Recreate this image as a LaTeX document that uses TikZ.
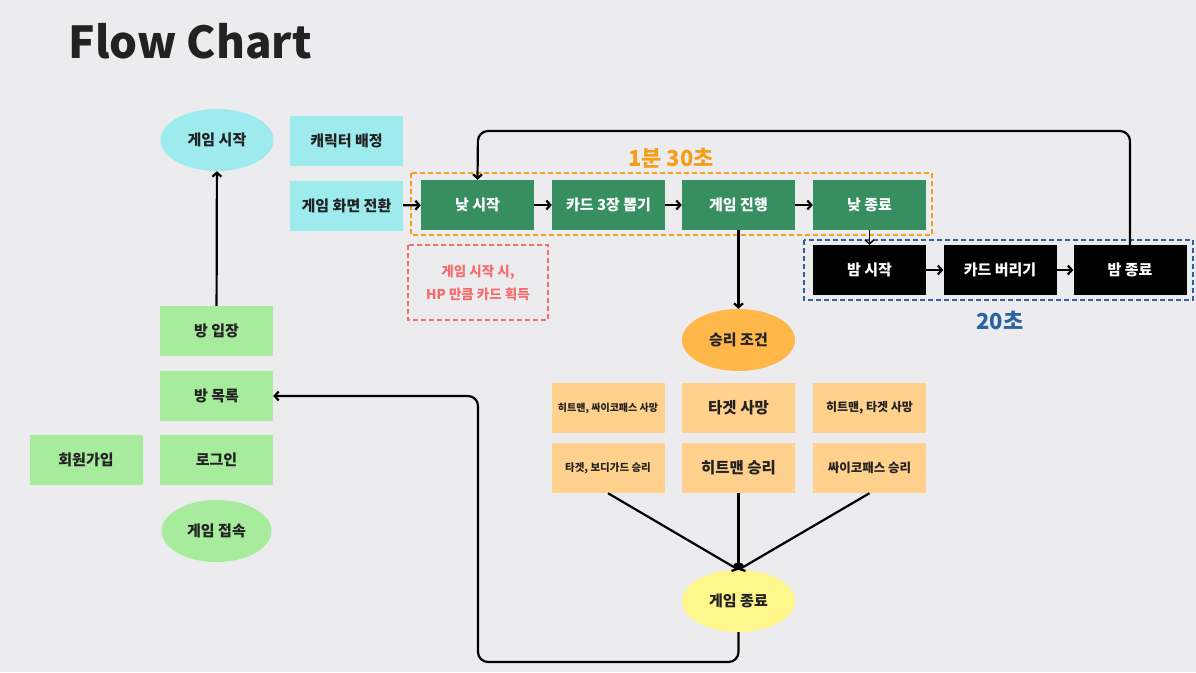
\documentclass[tikz,border=0pt]{standalone}
\usepackage{fontspec}
\setmainfont{Noto Sans CJK KR}
\usepackage{tikz}
\usetikzlibrary{arrows.meta}
\usetikzlibrary{shapes.geometric}
\definecolor{bgcol}{HTML}{ECECEF}
\definecolor{cyanbox}{HTML}{9EEBEE}
\definecolor{lightgreen}{HTML}{A6EC9C}
\definecolor{daygreen}{HTML}{378E61}
\definecolor{dayorange}{HTML}{F59E1B}
\definecolor{nightblue}{HTML}{2B62A3}
\definecolor{hpred}{HTML}{F66B6B}
\definecolor{winorange}{HTML}{FFB74A}
\definecolor{winbox}{HTML}{FFD18C}
\definecolor{endyellow}{HTML}{FFF68C}
\definecolor{titlecol}{HTML}{222222}
\tikzset{box/.style = {rectangle, inner sep = 0, minimum width = 113, minimum height = 50, text = titlecol, font = \bfseries\fontsize{15}{17}\selectfont}}
\tikzset{oval/.style = {ellipse, inner sep = 0, minimum width = 113, minimum height = 62, text = titlecol, font = \bfseries\fontsize{15}{17}\selectfont}}
\tikzset{arr/.style = {line width = 2.2pt, -{Straight Barb[length=4pt,width=9pt]}}}
\tikzset{frame/.style = {line width = 1.8pt, dash pattern = on 5pt off 3pt}}

\begin{document}
\begin{tikzpicture}[x=1pt,y=-1pt]
        \fill [bgcol] (0,0) rectangle (1196,672);
        \useasboundingbox (0,0) rectangle (1196,672);
        \node[anchor=base west, text=titlecol, font=\bfseries\fontsize{44}{46}\selectfont] (title) at (65,58) {Flow Chart};
        % left column
        \node[oval, fill=cyanbox] (gamestart) at (217,140) {게임 시작};
        \node[box, fill=cyanbox] (charassign) at (346.5,141) {캐릭터 배정};
        \node[box, fill=cyanbox] (screenchange) at (346.5,205.5) {게임 화면 전환};
        \node[box, fill=lightgreen] (roomenter) at (216.5,331) {방 입장};
        \node[box, fill=lightgreen] (roomlist) at (216.5,396) {방 목록};
        \node[box, fill=lightgreen] (login) at (216.5,460) {로그인};
        \node[box, fill=lightgreen] (signup) at (86,459.5) {회원가입};
        \node[oval, fill=lightgreen, minimum width=110] (connect) at (216.5,531) {게임 접속};
        \draw[arr] (roomenter) -- (gamestart);
        % day
        \draw[frame, dayorange] (411,173) rectangle (932,235);
        \node[text=dayorange, font=\bfseries\fontsize{22}{24}\selectfont] (daylabel) at (671,158) {1분 30초};
        \node[box, fill=daygreen, text=white] (daystart) at (477.5,205) {낮 시작};
        \node[box, fill=daygreen, text=white] (drawcards) at (608.5,205) {카드 3장 뽑기};
        \node[box, fill=daygreen, text=white] (playing) at (738.5,205) {게임 진행};
        \node[box, fill=daygreen, text=white] (dayend) at (869.5,205) {낮 종료};
        \draw[arr] (screenchange) -- (daystart);
        \draw[arr] (daystart) -- (drawcards);
        \draw[arr] (drawcards) -- (playing);
        \draw[arr] (playing) -- (dayend);
        % night
        \draw[frame, nightblue] (804,240) rectangle (1193,300);
        \node[text=nightblue, font=\bfseries\fontsize{22}{24}\selectfont] (nightlabel) at (1000,320) {20초};
        \node[box, fill=black, text=white] (nightstart) at (869.5,270) {밤 시작};
        \node[box, fill=black, text=white] (discard) at (1000,270) {카드 버리기};
        \node[box, fill=black, text=white] (nightend) at (1130,270) {밤 종료};
        \draw[arr, line width=1.4pt] (dayend) -- (nightstart);
        \draw[arr] (nightstart) -- (discard);
        \draw[arr] (discard) -- (nightend);
        \coordinate (looptop) at (478,131);
        \draw[arr, rounded corners=10pt] (nightend.north) |- (looptop) -- (daystart.north);
        % hp note
        \draw[frame, hpred] (408,245) rectangle (548,320);
        \node[text=hpred, align=center, font=\bfseries\fontsize{13.5}{23}\selectfont] (hpnote) at (478,283) {게임 시작 시,\\HP 만큼 카드 획득};
        % win conditions
        \node[oval, fill=winorange] (wincond) at (738.5,340) {승리 조건};
        \draw[arr] (playing) -- (wincond);
        \node[box, fill=winbox, font=\bfseries\fontsize{10}{12}\selectfont] (deathA) at (608,408) {히트맨, 싸이코패스 사망};
        \node[box, fill=winbox, font=\bfseries\fontsize{15.5}{17}\selectfont] (deathB) at (738.5,408) {타겟 사망};
        \node[box, fill=winbox, font=\bfseries\fontsize{12}{14}\selectfont] (deathC) at (869.5,408) {히트맨, 타겟 사망};
        \node[box, fill=winbox, font=\bfseries\fontsize{10.5}{12}\selectfont] (winA) at (608,468) {타겟, 보디가드 승리};
        \node[box, fill=winbox, font=\bfseries\fontsize{15.5}{17}\selectfont] (winB) at (738.5,468) {히트맨 승리};
        \node[box, fill=winbox, font=\bfseries\fontsize{12.5}{14}\selectfont] (winC) at (869.5,468) {싸이코패스 승리};
        \node[oval, fill=endyellow] (gameend) at (738.5,601) {게임 종료};
        \draw[arr] (winA.south) -- (gameend.north);
        \draw[arr] (winB.south) -- (gameend.north);
        \draw[arr] (winC.south) -- (gameend.north);
        \coordinate (loopbottom) at (478,662);
        \draw[arr, rounded corners=10pt] (gameend.south) |- (loopbottom) |- (roomlist.east);
    \end{tikzpicture}
\end{document}
